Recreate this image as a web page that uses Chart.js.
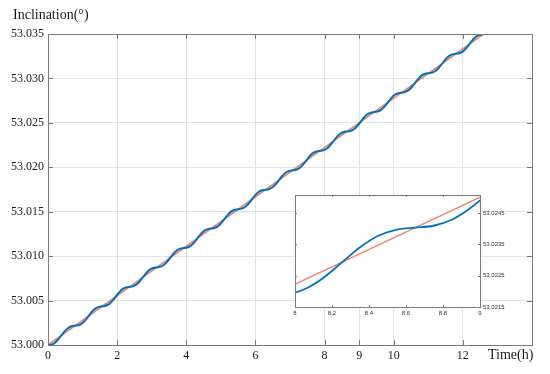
<!DOCTYPE html>
<html>
<head>
<meta charset="utf-8">
<script src="https://cdn.jsdelivr.net/npm/chart.js@4"></script>
<style>
  html, body { margin: 0; padding: 0; background: #fff; }
  #wrap { position: relative; width: 550px; height: 374px; font-family: "Liberation Serif", "Times New Roman", serif; }
  #main { position: absolute; left: 0; top: 0; }
  #inset { position: absolute; left: 285px; top: 185px; }
  .lbl { position: absolute; font-size: 14px; color: #1a1a1a; white-space: nowrap; line-height: 16px; }
</style>
</head>
<body>
<div id="wrap">
  <canvas id="main" width="550" height="374"></canvas>
  <canvas id="inset" width="250" height="140"></canvas>
  <div class="lbl" style="left:13px;top:7px">Inclination(°)</div>
  <div class="lbl" style="left:488px;top:347px">Time(h)</div>
</div>
<script>
// 数据：时间(h) 与倾角(°)
var timeH = [
  0, 0.091, 0.190, 0.288, 0.387, 0.485, 0.583, 0.682,
  0.780, 0.878, 0.977, 1.075, 1.174, 1.272, 1.370, 1.469,
  1.567, 1.665, 1.764, 1.862, 1.961, 2.059, 2.157, 2.256,
  2.354, 2.452, 2.551, 2.649, 2.748, 2.846, 2.944, 3.043,
  3.141, 3.239, 3.338, 3.436, 3.535, 3.633, 3.731, 3.830,
  3.928, 4.026, 4.125, 4.223, 4.322, 4.420, 4.518, 4.617,
  4.715, 4.813, 4.912, 5.010, 5.109, 5.207, 5.305, 5.404,
  5.502, 5.600, 5.699, 5.797, 5.896, 5.994, 6.092, 6.191,
  6.289, 6.387, 6.486, 6.584, 6.683, 6.781, 6.879, 6.978,
  7.076, 7.174, 7.273, 7.371, 7.470, 7.568, 7.666, 7.765,
  7.863, 7.961, 8.060, 8.158, 8.257, 8.355, 8.453, 8.552,
  8.650, 8.748, 8.847, 8.945, 9.044, 9.142, 9.240, 9.339,
  9.437, 9.535, 9.634, 9.732, 9.831, 9.929, 10.027, 10.126,
  10.224, 10.322, 10.421, 10.519, 10.618, 10.716, 10.814, 10.913,
  11.011, 11.109, 11.208, 11.306, 11.405, 11.503, 11.601, 11.700,
  11.798, 11.896, 11.995, 12.093, 12.192, 12.290, 12.388, 12.487,
  12.585
]
var blueIncl = [
  53.00000, 53.00004, 53.00023, 53.00059, 53.00107, 53.00156, 53.00192, 53.00211,
  53.00217, 53.00223, 53.00241, 53.00277, 53.00326, 53.00374, 53.00411, 53.00429,
  53.00435, 53.00441, 53.00460, 53.00496, 53.00545, 53.00593, 53.00629, 53.00648,
  53.00654, 53.00660, 53.00679, 53.00715, 53.00763, 53.00812, 53.00848, 53.00866,
  53.00873, 53.00879, 53.00897, 53.00933, 53.00982, 53.01030, 53.01067, 53.01085,
  53.01091, 53.01097, 53.01116, 53.01152, 53.01201, 53.01249, 53.01285, 53.01304,
  53.01310, 53.01316, 53.01335, 53.01371, 53.01419, 53.01468, 53.01504, 53.01522,
  53.01528, 53.01535, 53.01553, 53.01589, 53.01638, 53.01686, 53.01722, 53.01741,
  53.01747, 53.01753, 53.01772, 53.01808, 53.01856, 53.01905, 53.01941, 53.01960,
  53.01966, 53.01972, 53.01990, 53.02027, 53.02075, 53.02124, 53.02160, 53.02178,
  53.02184, 53.02190, 53.02209, 53.02245, 53.02294, 53.02342, 53.02378, 53.02397,
  53.02403, 53.02409, 53.02428, 53.02464, 53.02512, 53.02561, 53.02597, 53.02615,
  53.02622, 53.02628, 53.02646, 53.02682, 53.02731, 53.02779, 53.02816, 53.02834,
  53.02840, 53.02846, 53.02865, 53.02901, 53.02950, 53.02998, 53.03034, 53.03053,
  53.03059, 53.03065, 53.03084, 53.03120, 53.03168, 53.03217, 53.03253, 53.03271,
  53.03278, 53.03284, 53.03302, 53.03338, 53.03387, 53.03435, 53.03472, 53.03490,
  53.03496
]
// 拟合直线
var fitTime = [0, 12.585]
var fitIncl = [53.0, 53.03496]

var xTickVals = [0, 2, 4, 6, 8, 9, 10, 12]
var yTickVals = [53.000, 53.005, 53.010, 53.015, 53.020, 53.025, 53.030, 53.035]
var insetXTicks = [8, 8.2, 8.4, 8.6, 8.8, 9]
var insetYTicks = [53.0215, 53.0225, 53.0235, 53.0245]

var BLUE = '#0072BD'
var ORANGE = '#EF7F6D'

function toPoints (xs, ys) {
  return xs.map(function (x, i) { return { x: x, y: ys[i] } })
}

// 边框 + 向内的刻度线
function framePlugin (tickLen, fill) {
  return {
    id: 'frame',
    beforeDatasetsDraw: function (chart) {
      if (!fill) return
      var a = chart.chartArea
      var ctx = chart.ctx
      ctx.save()
      ctx.fillStyle = '#fff'
      ctx.fillRect(a.left, a.top, a.right - a.left, a.bottom - a.top)
      ctx.restore()
    },
    afterDraw: function (chart) {
      var a = chart.chartArea
      var ctx = chart.ctx
      var xs = chart.scales.x
      var ys = chart.scales.y
      ctx.save()
      ctx.strokeStyle = '#7a7a7a'
      ctx.lineWidth = 1
      ctx.beginPath()
      xs.ticks.forEach(function (t) {
        var px = Math.round(xs.getPixelForValue(t.value)) + 0.5
        ctx.moveTo(px, a.bottom); ctx.lineTo(px, a.bottom - tickLen)
        ctx.moveTo(px, a.top); ctx.lineTo(px, a.top + tickLen)
      })
      ys.ticks.forEach(function (t) {
        var py = Math.round(ys.getPixelForValue(t.value)) + 0.5
        ctx.moveTo(a.left, py); ctx.lineTo(a.left + tickLen, py)
        ctx.moveTo(a.right, py); ctx.lineTo(a.right - tickLen, py)
      })
      ctx.stroke()
      ctx.strokeRect(Math.round(a.left) + 0.5, Math.round(a.top) + 0.5,
        Math.round(a.right - a.left), Math.round(a.bottom - a.top))
      ctx.restore()
    }
  }
}

var serif = 'Liberation Serif, Times New Roman, serif'
var sans = 'Liberation Sans, Arial, sans-serif'

new Chart(document.getElementById('main'), {
  type: 'line',
  data: {
    datasets: [
      { data: toPoints(timeH, blueIncl), borderColor: BLUE, borderWidth: 2, pointRadius: 0, cubicInterpolationMode: 'monotone', fill: false },
      { data: toPoints(fitTime, fitIncl), borderColor: ORANGE, borderWidth: 1.6, pointRadius: 0, fill: false }
    ]
  },
  options: {
    responsive: false,
    animation: false,
    layout: { padding: { top: 34, right: 18, left: 0, bottom: 0 } },
    plugins: { legend: { display: false }, tooltip: { enabled: false } },
    scales: {
      x: {
        type: 'linear', min: 0, max: 14,
        afterBuildTicks: function (s) { s.ticks = xTickVals.map(function (v) { return { value: v } }) },
        afterFit: function (s) { s.height = 29 },
        grid: { color: '#e3e3e3', drawTicks: false },
        border: { display: false },
        ticks: { padding: 4, color: '#1a1a1a', font: { family: serif, size: 12 }, maxRotation: 0, autoSkip: false }
      },
      y: {
        type: 'linear', min: 53.000, max: 53.035,
        afterBuildTicks: function (s) { s.ticks = yTickVals.map(function (v) { return { value: v } }) },
        afterFit: function (s) { s.width = 48 },
        grid: { color: '#e3e3e3', drawTicks: false },
        border: { display: false },
        ticks: { padding: 4, color: '#1a1a1a', font: { family: serif, size: 12 },
          callback: function (v) { return Number(v).toFixed(3) } }
      }
    }
  },
  plugins: [framePlugin(5, false)]
})

// 局部放大图 8h-9h
new Chart(document.getElementById('inset'), {
  type: 'line',
  data: {
    datasets: [
      { data: toPoints(timeH, blueIncl), borderColor: BLUE, borderWidth: 1.8, pointRadius: 0, cubicInterpolationMode: 'monotone', fill: false },
      { data: toPoints(fitTime, fitIncl), borderColor: ORANGE, borderWidth: 1.4, pointRadius: 0, fill: false }
    ]
  },
  options: {
    responsive: false,
    animation: false,
    layout: { padding: { top: 10, left: 10, right: 0, bottom: 0 } },
    plugins: { legend: { display: false }, tooltip: { enabled: false } },
    scales: {
      x: {
        type: 'linear', min: 8, max: 9,
        afterBuildTicks: function (s) { s.ticks = insetXTicks.map(function (v) { return { value: v } }) },
        afterFit: function (s) { s.height = 18 },
        grid: { display: false, drawTicks: false },
        border: { display: false },
        ticks: { padding: 3, color: '#333', font: { family: sans, size: 6 }, maxRotation: 0, autoSkip: false,
          callback: function (v) { return String(Math.round(v * 10) / 10) } }
      },
      y: {
        type: 'linear', position: 'right', min: 53.0215, max: 53.02507,
        afterBuildTicks: function (s) { s.ticks = insetYTicks.map(function (v) { return { value: v } }) },
        afterFit: function (s) { s.width = 55 },
        grid: { display: false, drawTicks: false },
        border: { display: false },
        ticks: { padding: 3, color: '#333', font: { family: sans, size: 6 },
          callback: function (v) { return Number(v).toFixed(4) } }
      }
    }
  },
  plugins: [framePlugin(2, true)]
})
</script>
</body>
</html>
